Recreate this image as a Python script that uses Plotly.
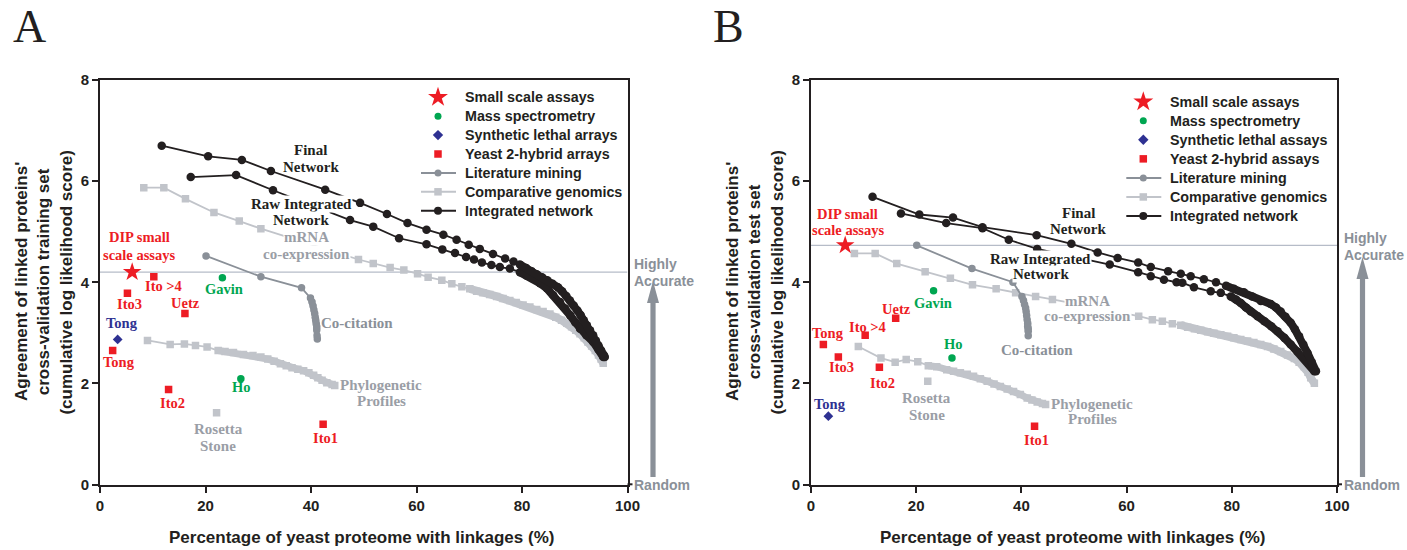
import plotly.graph_objects as go

W, H = 1407, 550

# ---------------- Panel A: cross-validation training set ----------------
a_final_x = [11.7, 20.5, 26.9, 32.4, 42.7, 49.3, 54.4, 58.3, 61.9, 65.1, 67.6, 69.9, 72.0,
             74.5, 76.8, 78.4, 79.6, 80.8, 81.8, 82.8, 83.8, 84.8, 85.8, 86.8, 87.6, 88.4,
             89.1, 89.8, 90.5, 91.1, 91.7, 92.3, 92.9, 93.5, 94.0, 94.5, 95.0, 95.5, 95.7]
a_final_y = [6.70, 6.49, 6.42, 6.20, 5.83, 5.57, 5.35, 5.17, 5.04, 4.94, 4.84, 4.74, 4.66,
             4.56, 4.47, 4.41, 4.35, 4.28, 4.22, 4.16, 4.10, 4.04, 3.97, 3.90, 3.82, 3.73,
             3.64, 3.54, 3.44, 3.35, 3.25, 3.15, 3.05, 2.95, 2.85, 2.75, 2.65, 2.56, 2.52]

a_raw_x = [17.2, 25.8, 32.8, 47.4, 51.8, 56.7, 61.9, 64.9, 67.3, 69.4, 70.9, 72.4, 74.2,
           75.8, 77.7, 79.6, 80.9, 82.1, 83.4, 84.7, 85.9, 87.2, 88.2, 89.1, 90.1, 91.0,
           92.2, 93.5, 94.5, 95.4]
a_raw_y = [6.08, 6.12, 5.82, 5.23, 5.10, 4.87, 4.75, 4.65, 4.58, 4.50, 4.45, 4.39, 4.34,
           4.30, 4.27, 4.20, 4.13, 4.07, 3.98, 3.88, 3.75, 3.61, 3.48, 3.35, 3.21, 3.08,
           2.95, 2.82, 2.67, 2.52]

a_mrna_x = [8.3, 12.1, 16.2, 21.6, 26.4, 30.5, 49.0, 51.8, 55.0, 57.6, 60.2, 62.2, 64.8,
            66.7, 68.6, 70.1, 71.4, 72.6, 73.9, 75.2, 76.4, 77.7, 78.9, 80.2, 81.5, 82.8,
            84.0, 85.3, 86.4, 87.5, 88.5, 89.4, 90.2, 91.0, 91.8, 92.5, 93.2, 93.9, 94.5,
            95.0, 95.4]
a_mrna_y = [5.87, 5.87, 5.65, 5.38, 5.21, 5.06, 4.45, 4.37, 4.29, 4.24, 4.17, 4.10, 4.04,
            3.97, 3.91, 3.87, 3.82, 3.79, 3.76, 3.72, 3.68, 3.64, 3.60, 3.55, 3.51, 3.46,
            3.42, 3.37, 3.31, 3.25, 3.19, 3.12, 3.05, 2.98, 2.90, 2.82, 2.74, 2.65, 2.56,
            2.48, 2.40]

a_phylo_x = [9.0, 13.3, 16.0, 18.1, 20.3, 22.4, 23.7, 25.3, 27.2, 29.0, 30.5, 31.8, 33.0,
             34.2, 35.3, 36.4, 37.5, 38.6, 39.6, 40.5, 41.3, 42.1, 43.0, 44.0, 44.5]
a_phylo_y = [2.85, 2.77, 2.78, 2.75, 2.72, 2.65, 2.63, 2.61, 2.57, 2.55, 2.52, 2.48, 2.44,
             2.39, 2.35, 2.31, 2.28, 2.25, 2.21, 2.16, 2.11, 2.06, 2.01, 1.98, 1.96]

a_lit_x = [20.1, 30.5, 38.2, 39.9, 40.2, 40.4, 40.55, 40.7, 40.8, 40.9, 41.0, 41.1, 41.1, 41.15, 41.2]
a_lit_y = [4.52, 4.11, 3.89, 3.69, 3.61, 3.53, 3.45, 3.38, 3.31, 3.25, 3.18, 3.12, 3.06, 2.94, 2.88]

a_rosetta = (22.1, 1.42)
a_small_scale = (6.1, 4.20)
a_y2h_names = ["Ito >4", "Ito3", "Uetz", "Tong", "Ito2", "Ito1"]
a_y2h_x = [10.2, 5.2, 16.1, 2.4, 13.0, 42.3]
a_y2h_y = [4.11, 3.78, 3.38, 2.65, 1.88, 1.19]
a_ms_names = ["Gavin", "Ho"]
a_ms_x = [23.2, 26.7]
a_ms_y = [4.09, 2.09]
a_sl_x = [3.35]
a_sl_y = [2.87]

# ---------------- Panel B: cross-validation test set ----------------
b_final_x = [11.7, 20.6, 27.0, 32.6, 42.9, 49.5, 54.5, 58.3, 62.2, 64.6, 67.9, 70.3, 72.2,
             74.7, 77.0, 78.9, 80.4, 82.3, 83.9, 85.5, 87.4, 88.4, 89.3, 90.2, 91.2, 92.0,
             92.8, 93.6, 94.4, 95.2, 96.0]
b_final_y = [5.69, 5.34, 5.28, 5.09, 4.93, 4.76, 4.59, 4.48, 4.39, 4.30, 4.22, 4.17, 4.12,
             4.06, 4.00, 3.93, 3.87, 3.80, 3.72, 3.63, 3.57, 3.50, 3.42, 3.32, 3.20, 3.07,
             2.93, 2.77, 2.60, 2.42, 2.24]

b_raw_x = [17.1, 25.7, 32.6, 37.6, 43.0, 56.8, 62.2, 64.6, 67.1, 69.5, 70.6, 72.8, 76.0,
           77.9, 79.8, 80.8, 81.7, 82.7, 83.6, 84.9, 86.2, 87.5, 88.7, 90.0, 91.2, 92.5,
           93.8, 94.8, 95.7]
b_raw_y = [5.36, 5.17, 5.07, 4.84, 4.66, 4.35, 4.20, 4.12, 4.05, 4.00, 3.99, 3.90, 3.82,
           3.79, 3.72, 3.66, 3.59, 3.50, 3.42, 3.33, 3.23, 3.13, 3.03, 2.90, 2.77, 2.63,
           2.50, 2.37, 2.24]

b_mrna_x = [8.25, 12.2, 16.3, 21.7, 26.5, 30.7, 35.2, 38.9, 42.7, 45.9, 62.3, 64.9, 66.8,
            68.7, 70.3, 71.6, 72.9, 74.1, 75.4, 76.6, 77.9, 79.2, 80.4, 81.7, 83.0, 84.2,
            85.5, 86.8, 88.0, 89.3, 90.6, 91.9, 92.8, 93.8, 94.5, 95.0, 95.7]
b_mrna_y = [4.57, 4.57, 4.37, 4.21, 4.08, 3.95, 3.87, 3.79, 3.72, 3.66, 3.33, 3.26, 3.23,
            3.18, 3.15, 3.11, 3.08, 3.05, 3.02, 2.99, 2.96, 2.93, 2.90, 2.87, 2.84, 2.81,
            2.77, 2.73, 2.68, 2.63, 2.56, 2.49, 2.42, 2.33, 2.22, 2.11, 2.00]

b_phylo_x = [9.0, 13.3, 16.0, 18.1, 20.3, 22.3, 23.9, 25.8, 27.1, 28.4, 29.7, 30.9, 32.2,
             33.5, 34.8, 36.0, 37.3, 38.5, 39.8, 41.1, 42.0, 43.0, 44.0, 44.6]
b_phylo_y = [2.73, 2.50, 2.42, 2.47, 2.43, 2.35, 2.33, 2.27, 2.24, 2.21, 2.18, 2.14, 2.09,
             2.04, 1.99, 1.94, 1.89, 1.84, 1.78, 1.71, 1.67, 1.63, 1.60, 1.58]

b_lit_x = [20.1, 30.6, 38.4, 40.1, 40.4, 40.6, 40.8, 40.9, 41.0, 41.1, 41.2, 41.2, 41.3, 41.3, 41.3]
b_lit_y = [4.73, 4.27, 4.00, 3.72, 3.64, 3.56, 3.49, 3.42, 3.34, 3.26, 3.19, 3.13, 3.08, 3.03, 2.94]

b_rosetta = (22.2, 2.04)
b_small_scale = (6.5, 4.73)
b_y2h_names = ["Tong", "Ito3", "Ito >4", "Uetz", "Ito2", "Ito1"]
b_y2h_x = [2.35, 5.2, 10.3, 16.1, 13.0, 42.5]
b_y2h_y = [2.77, 2.52, 2.95, 3.29, 2.32, 1.15]
b_ms_names = ["Gavin", "Ho"]
b_ms_x = [23.3, 26.8]
b_ms_y = [3.83, 2.50]
b_sl_x = [3.3]
b_sl_y = [1.35]

legend_a = ["Small scale assays", "Mass spectrometry", "Synthetic lethal arrays",
            "Yeast 2-hybrid arrays", "Literature mining", "Comparative genomics",
            "Integrated network"]
legend_b = ["Small scale assays", "Mass spectrometry", "Synthetic lethal assays",
            "Yeast 2-hybrid assays", "Literature mining", "Comparative genomics",
            "Integrated network"]

x_ticks = [0, 20, 40, 60, 80, 100]
y_ticks = [0, 2, 4, 6, 8]

# ---------------- styling ----------------
BLACK = "#231f20"
RED = "#ed1c24"
GREEN = "#00a651"
BLUE = "#2e3192"
LIT = "#8a9098"
COMP = "#c1c4ca"
COMP_TXT = "#9a9ea6"
REFLINE = "#b6bcc8"
SANS = "Liberation Sans, Arial, sans-serif"
SERIF = "Liberation Serif, Times New Roman, serif"

fig = go.Figure()


def series(xs, ys, color, symbol, size, xa, ya, dense_from=None, dense_width=8):
    """Curve with markers; the densely sampled tail (from index dense_from on)
    is overdrawn with a heavy stroke, where the markers merge into a band."""
    fig.add_trace(go.Scatter(
        x=xs, y=ys, mode="lines+markers", xaxis=xa, yaxis=ya, showlegend=False,
        line=dict(color=color, width=1.8),
        marker=dict(color=color, symbol=symbol, size=size, line=dict(width=0))))
    if dense_from is not None:
        fig.add_trace(go.Scatter(
            x=xs[dense_from:], y=ys[dense_from:], mode="lines", xaxis=xa, yaxis=ya,
            showlegend=False, line=dict(color=color, width=dense_width)))


def points(xs, ys, color, symbol, size, xa, ya):
    fig.add_trace(go.Scatter(
        x=xs, y=ys, mode="markers", xaxis=xa, yaxis=ya, showlegend=False,
        marker=dict(color=color, symbol=symbol, size=size, line=dict(width=0))))


panels = [
    dict(xa="x", ya="y", final=(a_final_x, a_final_y, 16), raw=(a_raw_x, a_raw_y, 15),
         mrna=(a_mrna_x, a_mrna_y, 15), phylo=(a_phylo_x, a_phylo_y, 5),
         lit=(a_lit_x, a_lit_y, 3), rosetta=a_rosetta, star=a_small_scale,
         y2h=(a_y2h_x, a_y2h_y), ms=(a_ms_x, a_ms_y), sl=(a_sl_x, a_sl_y)),
    dict(xa="x2", ya="y2", final=(b_final_x, b_final_y, 15), raw=(b_raw_x, b_raw_y, 14),
         mrna=(b_mrna_x, b_mrna_y, 14), phylo=(b_phylo_x, b_phylo_y, 5),
         lit=(b_lit_x, b_lit_y, 3), rosetta=b_rosetta, star=b_small_scale,
         y2h=(b_y2h_x, b_y2h_y), ms=(b_ms_x, b_ms_y), sl=(b_sl_x, b_sl_y)),
]

for p in panels:
    xa, ya = p["xa"], p["ya"]
    # threshold line at the level of the small scale assays
    fig.add_shape(type="line", xref=xa, yref=ya, x0=0, x1=100,
                  y0=p["star"][1], y1=p["star"][1],
                  line=dict(color=REFLINE, width=1.2), layer="below")
    series(*p["mrna"][:2], COMP, "square", 7.5, xa, ya, p["mrna"][2], 8)
    series(*p["phylo"][:2], COMP, "square", 7.5, xa, ya, p["phylo"][2], 7)
    points([p["rosetta"][0]], [p["rosetta"][1]], COMP, "square", 7.5, xa, ya)
    series(*p["lit"][:2], LIT, "circle", 7.5, xa, ya, p["lit"][2], 6)
    series(*p["raw"][:2], BLACK, "circle", 8.5, xa, ya, p["raw"][2], 8)
    series(*p["final"][:2], BLACK, "circle", 8.5, xa, ya, p["final"][2], 8)
    points(*p["y2h"], RED, "square", 7.5, xa, ya)
    points(*p["ms"], GREEN, "circle", 7.5, xa, ya)
    points(*p["sl"], BLUE, "diamond", 7.5, xa, ya)
    points([p["star"][0]], [p["star"][1]], RED, "star", 14, xa, ya)


def fx(px):
    return px / W


def fy(py):
    return 1 - py / H


# ---------------- legends (pixel layout on the overlay axis) ----------------
legend_layout = [(legend_a, 438.0, 97.3, 18.9), (legend_b, 1143.3, 101.7, 19.05)]
legend_glyphs = [
    ("star", RED, 15, None),
    ("circle", GREEN, 7, None),
    ("diamond", BLUE, 8, None),
    ("square", RED, 7.5, None),
    ("circle", LIT, 7, LIT),
    ("square", COMP, 7.5, COMP),
    ("circle", BLACK, 8, BLACK),
]
annotations = []
for labels, cx, y0, dy in legend_layout:
    for i, (text, (sym, col, size, linecol)) in enumerate(zip(labels, legend_glyphs)):
        yy = y0 + i * dy
        if linecol:
            fig.add_trace(go.Scatter(x=[cx - 17, cx + 18], y=[yy, yy], mode="lines",
                                     xaxis="x3", yaxis="y3", showlegend=False,
                                     line=dict(color=linecol, width=2)))
        fig.add_trace(go.Scatter(x=[cx], y=[yy], mode="markers", xaxis="x3", yaxis="y3",
                                 showlegend=False,
                                 marker=dict(symbol=sym, color=col, size=size,
                                             line=dict(width=0))))
        annotations.append(dict(text=text, x=fx(cx + 25), y=fy(yy), xref="paper",
                                yref="paper", xanchor="left", yanchor="middle",
                                showarrow=False,
                                font=dict(family=SANS, size=14.3, color=BLACK,
                                          weight="bold")))


def label(text, px, py, color, size=14.5, bg=None, family=SERIF):
    d = dict(text=text, x=fx(px), y=fy(py), xref="paper", yref="paper",
             xanchor="center", yanchor="middle", showarrow=False,
             font=dict(family=family, size=size, color=color, weight="bold"))
    if bg:
        d.update(bgcolor=bg, borderpad=0)
    annotations.append(d)


# series labels, panel A
label("Final", 310, 150, BLACK, 15)
label("Network", 311, 167, BLACK, 15)
label("Raw Integrated", 301, 204, BLACK, 15, bg="white")
label("Network", 301, 220, BLACK, 15, bg="white")
label("mRNA", 306, 237, COMP_TXT, 15, bg="white")
label("co-expression", 306, 254, COMP_TXT, 15, bg="white")
label("DIP small", 139, 237, RED)
label("scale assays", 139, 255, RED)
label("Ito >4", 163, 286, RED)
label("Ito3", 129, 304, RED)
label("Uetz", 185, 303, RED)
label("Tong", 122, 323, BLUE)
label("Tong", 118.5, 362, RED)
label("Ito2", 172.5, 403, RED)
label("Ito1", 325, 438, RED)
label("Gavin", 224.5, 289, GREEN)
label("Ho", 241, 387, GREEN)
label("Rosetta", 218, 429, COMP_TXT, 15)
label("Stone", 218, 446, COMP_TXT, 15)
label("Co-citation", 357, 323, LIT, 15)
label("Phylogenetic", 381, 385, COMP_TXT, 15)
label("Profiles", 382, 401, COMP_TXT, 15)

# series labels, panel B
label("Final", 1078, 213, BLACK, 15)
label("Network", 1078, 229, BLACK, 15)
label("Raw Integrated", 1040.5, 259, BLACK, 15, bg="white")
label("Network", 1040.5, 274.5, BLACK, 15, bg="white")
label("mRNA", 1087, 301, COMP_TXT, 15, bg="white")
label("co-expression", 1087.5, 316, COMP_TXT, 15, bg="white")
label("DIP small", 847, 213.5, RED)
label("scale assays", 847.5, 230, RED)
label("Tong", 828.5, 332.5, RED)
label("Ito >4", 867, 327, RED)
label("Uetz", 896, 308.5, RED)
label("Gavin", 933, 302.5, GREEN)
label("Ho", 953.5, 343.5, GREEN)
label("Ito3", 841, 367, RED)
label("Ito2", 882, 382.5, RED)
label("Rosetta", 927, 398, COMP_TXT, 15)
label("Stone", 927, 414.5, COMP_TXT, 15)
label("Tong", 829.5, 403.5, BLUE)
label("Ito1", 1036, 439.5, RED)
label("Co-citation", 1037, 350, LIT, 15)
label("Phylogenetic", 1092, 403.5, COMP_TXT, 15)
label("Profiles", 1092, 419, COMP_TXT, 15)

# panel letters
label("A", 29, 27, BLACK, 46, family=SERIF)
label("B", 729, 27, BLACK, 46, family=SERIF)
annotations[-1]["font"]["weight"] = "normal"
annotations[-2]["font"]["weight"] = "normal"

# axis titles
y_title_a = ["Agreement of linked proteins'", "cross-validation training set",
             "(cumulative log likelihood score)"]
y_title_b = ["Agreement of linked proteins'", "cross-validation test set",
             "(cumulative log likelihood score)"]
for lines, x_axis_px in [(y_title_a, 100), (y_title_b, 811)]:
    for k, line in enumerate(lines):
        annotations.append(dict(text=line, x=fx(x_axis_px - 79 + 22.3 * k), y=fy(282),
                                xref="paper", yref="paper", textangle=-90,
                                xanchor="center", yanchor="middle", showarrow=False,
                                font=dict(family=SANS, size=17, color=BLACK,
                                          weight="bold")))
for cx in (361, 1072.5):
    annotations.append(dict(text="Percentage of yeast proteome with linkages (%)",
                            x=fx(cx), y=fy(537), xref="paper", yref="paper",
                            xanchor="center", yanchor="middle", showarrow=False,
                            font=dict(family=SANS, size=17, color=BLACK, weight="bold")))

# accuracy scale on the right of each panel
shapes = []
for left, top_hi, arrow_x, apex in [(632, 264, 653, 281), (1342, 238, 1362.5, 257)]:
    for txt, yy in [("Highly", top_hi), ("Accurate", top_hi + 17), ("Random", 485)]:
        annotations.append(dict(text=txt, x=fx(left), y=fy(yy), xref="paper", yref="paper",
                                xanchor="left", yanchor="middle", showarrow=False,
                                font=dict(family=SANS, size=14, color=LIT, weight="bold")))
    shapes.append(dict(type="rect", xref="paper", yref="paper",
                       x0=fx(arrow_x - 2.6), x1=fx(arrow_x + 2.6),
                       y0=fy(477), y1=fy(apex + 18), fillcolor=LIT, line=dict(width=0)))
    shapes.append(dict(type="path", xref="paper", yref="paper",
                       path=f"M {fx(arrow_x - 6)} {fy(apex + 22)} L {fx(arrow_x)} {fy(apex)} "
                            f"L {fx(arrow_x + 6)} {fy(apex + 22)} Z",
                       fillcolor=LIT, line=dict(width=0)))
    # small outward tick marking "Random" on the right axis
    ax_r = 627.5 if left < 700 else 1337
    shapes.append(dict(type="line", xref="paper", yref="paper", x0=fx(ax_r), x1=fx(ax_r + 5),
                       y0=fy(484.3), y1=fy(484.3), line=dict(color=BLACK, width=2)))

for s in shapes:
    fig.add_shape(**s)

axis_common = dict(showline=True, mirror=True, linecolor=BLACK, linewidth=2,
                   ticks="outside", ticklen=6, tickwidth=2, tickcolor=BLACK,
                   showgrid=False, zeroline=False, automargin=False,
                   tickfont=dict(family=SANS, size=15, color=BLACK, weight="bold"))

y_dom = [1 - 484.5 / H, 1 - 80 / H]
fig.update_layout(
    template="none",
    width=W, height=H, margin=dict(l=0, r=0, t=0, b=0, pad=0, autoexpand=False),
    paper_bgcolor="white", plot_bgcolor="rgba(0,0,0,0)", showlegend=False,
    xaxis=dict(axis_common, domain=[100 / W, 627.5 / W], range=[0, 100], tickvals=x_ticks,
               anchor="y"),
    yaxis=dict(axis_common, domain=y_dom, range=[0, 8], tickvals=y_ticks, anchor="x"),
    xaxis2=dict(axis_common, domain=[811 / W, 1337 / W], range=[0, 100], tickvals=x_ticks,
                anchor="y2"),
    yaxis2=dict(axis_common, domain=y_dom, range=[0, 8], tickvals=y_ticks, anchor="x2"),
    xaxis3=dict(domain=[0, 1], range=[0, W], visible=False, anchor="y3", fixedrange=True,
                automargin=False),
    yaxis3=dict(domain=[0, 1], range=[H, 0], visible=False, anchor="x3", fixedrange=True,
                automargin=False),
    annotations=annotations,
)

fig.write_html("out.html", config={"displayModeBar": False})
